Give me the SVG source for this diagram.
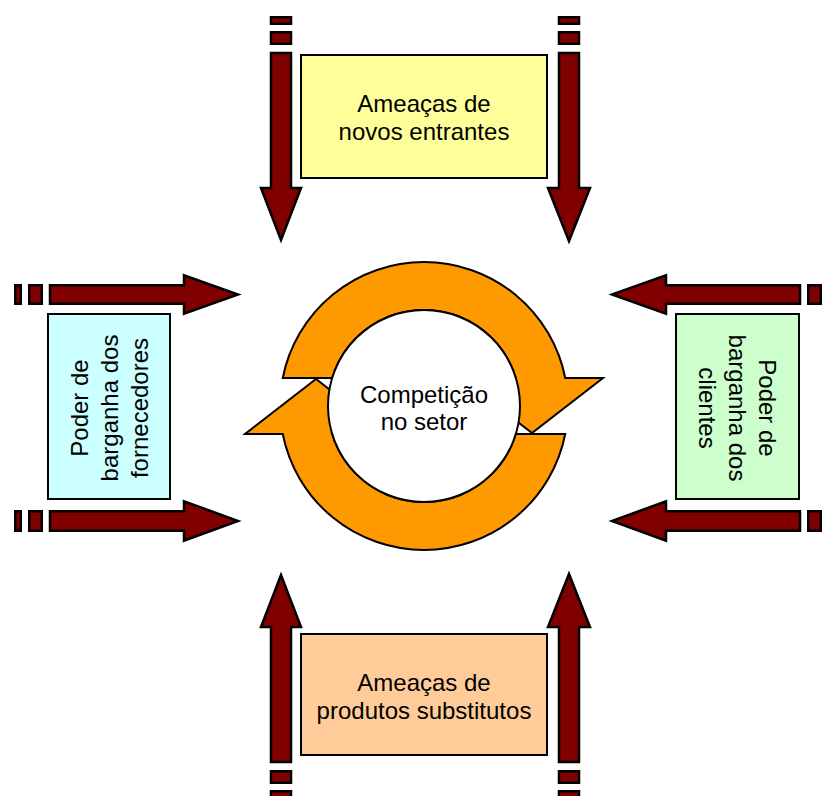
<svg xmlns="http://www.w3.org/2000/svg" width="826" height="796" viewBox="0 0 826 796">
<style>
.arr{fill:#800000;stroke:#000;stroke-width:2.5;stroke-linejoin:miter;stroke-miterlimit:10}
.box{stroke:#000;stroke-width:2}
.ring{fill:#FF9900;stroke:#000;stroke-width:2;stroke-linejoin:miter}
.t{font-family:"Liberation Sans",Arial,Helvetica,sans-serif;font-size:24px;fill:#000;text-anchor:middle}
</style>
<rect width="826" height="796" fill="#fff"/>
<g id="connectors">
  <!-- top down arrows -->
  <rect class="arr" x="271" y="17.25" width="20" height="6.5"/>
  <rect class="arr" x="271" y="32.25" width="20" height="11.5"/>
  <polygon class="arr" points="271,53 291,53 291,188 301,188 281,240 261,188 271,188"/>
  <rect class="arr" x="559" y="17.25" width="20" height="6.5"/>
  <rect class="arr" x="559" y="32.25" width="20" height="11.5"/>
  <polygon class="arr" points="559,53 579,53 579,188 590,188 569,241 548,188 559,188"/>
  <!-- bottom up arrows -->
  <rect class="arr" x="271" y="791.25" width="20" height="6.5"/>
  <rect class="arr" x="271" y="771.25" width="20" height="11.5"/>
  <polygon class="arr" points="271,762 291,762 291,627 301,627 281,575 261,627 271,627"/>
  <rect class="arr" x="559" y="791.25" width="20" height="6.5"/>
  <rect class="arr" x="559" y="771.25" width="20" height="11.5"/>
  <polygon class="arr" points="559,762 579,762 579,627 590,627 569,574 548,627 559,627"/>
  <!-- left right-pointing arrows -->
  <rect class="arr" x="15.25" y="285.25" width="5.5" height="18.5"/>
  <rect class="arr" x="29.25" y="285.25" width="12.5" height="18.5"/>
  <polygon class="arr" points="50,285.25 184,285.25 184,275.25 238,294.5 184,313.75 184,303.75 50,303.75"/>
  <rect class="arr" x="15.25" y="511.25" width="5.5" height="19.5"/>
  <rect class="arr" x="29.25" y="511.25" width="12.5" height="19.5"/>
  <polygon class="arr" points="50,511.25 184,511.25 184,501.25 238,521 184,540.75 184,530.75 50,530.75"/>
  <!-- right left-pointing arrows -->
  <rect class="arr" x="808.25" y="285.25" width="12.5" height="18.5"/>
  <polygon class="arr" points="800,285.25 666,285.25 666,275.25 612,294.5 666,313.75 666,303.75 800,303.75"/>
  <rect class="arr" x="808.25" y="511.25" width="12.5" height="19.5"/>
  <polygon class="arr" points="800,511.25 666,511.25 666,501.25 612,521 666,540.75 666,530.75 800,530.75"/>
</g>
<g id="novos-entrantes">
  <rect class="box" x="301" y="55" width="246" height="123" fill="#FFFF99"/>
  <text class="t" x="424" y="112">Ameaças de</text>
  <text class="t" x="424" y="140">novos entrantes</text>
</g>
<g id="produtos-substitutos">
  <rect class="box" x="301" y="634" width="246" height="121" fill="#FFCC99"/>
  <text class="t" x="424" y="691">Ameaças de</text>
  <text class="t" x="424" y="719">produtos substitutos</text>
</g>
<g id="fornecedores">
  <rect class="box" x="48" y="314" width="122" height="185" fill="#CCFFFF"/>
  <g transform="translate(109,408) rotate(-90)">
    <text class="t" x="0" y="-21">Poder de</text>
    <text class="t" x="0" y="9">barganha dos</text>
    <text class="t" x="0" y="39">fornecedores</text>
  </g>
</g>
<g id="clientes">
  <rect class="box" x="676" y="314" width="123" height="185" fill="#CCFFCC"/>
  <g transform="translate(737.5,408) rotate(90)">
    <text class="t" x="0" y="-21">Poder de</text>
    <text class="t" x="0" y="9">barganha dos</text>
    <text class="t" x="0" y="39">clientes</text>
  </g>
</g>
<g id="competicao">
  <path class="ring" d="M282.75,378 A144,144 0 0 1 565.25,378 L603,378 L532,433 L461,378 L515.8,378 A96,96 0 0 0 332.2,378 Z"/>
  <path class="ring" d="M565.25,434 A144,144 0 0 1 282.75,434 L245,434 L316,379 L387,434 L332.2,434 A96,96 0 0 0 515.8,434 Z"/>
  <circle cx="424" cy="406" r="96" fill="#fff" stroke="#000" stroke-width="2"/>
  <text class="t" x="424" y="403">Competição</text>
  <text class="t" x="424" y="430">no setor</text>
</g>
</svg>
